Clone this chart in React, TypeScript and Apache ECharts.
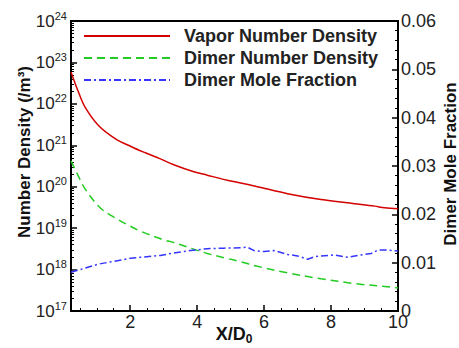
import React, { useEffect, useRef } from "react";
import * as echarts from "echarts";

// ---- data ----
const seriesNames = ["Vapor Number Density", "Dimer Number Density", "Dimer Mole Fraction"];

const vaporX = [0.23, 0.45, 0.65, 1.05, 1.55, 2.05, 2.45, 2.9, 3.3, 3.9, 4.3, 4.9, 5.3, 5.8, 6.7, 7.7, 8.7, 9.3, 9.6, 10];
const vaporY = [5.9e22, 1.95e22, 8.3e21, 3.0e21, 1.45e21, 9.1e20, 6.6e20, 4.7e20, 3.4e20, 2.3e20, 1.9e20, 1.43e20, 1.23e20, 1.0e20, 6.8e19, 4.9e19, 3.9e19, 3.4e19, 3.1e19, 2.95e19];

const dimerX = [0.23, 0.45, 0.65, 1.1, 1.5, 1.95, 2.3, 3.0, 3.3, 3.85, 4.3, 4.9, 5.3, 5.8, 6.7, 7.7, 8.7, 9.9, 10];
const dimerY = [4.2e20, 1.8e20, 8.9e19, 3.1e19, 1.86e19, 1.17e19, 8.5e18, 5.2e18, 4.5e18, 3.2e18, 2.45e18, 1.85e18, 1.55e18, 1.2e18, 8.3e17, 6.0e17, 4.6e17, 3.7e17, 3.6e17];

const fracX = [0.23, 1.05, 2.0, 2.3, 2.9, 3.3, 3.8, 4.3, 4.8, 5.3, 5.5, 5.7, 6.0, 6.3, 6.7, 7.0, 7.3, 7.5, 7.7, 8.1, 8.5, 8.9, 9.2, 9.4, 9.7, 10];
const fracY = [0.008, 0.0097, 0.0109, 0.0111, 0.0115, 0.012, 0.0125, 0.0129, 0.013, 0.0131, 0.0132, 0.0125, 0.0123, 0.0125, 0.0117, 0.0114, 0.0107, 0.0112, 0.0114, 0.0116, 0.0111, 0.0116, 0.0119, 0.0126, 0.0126, 0.0124];

const xMin = 0.23;
const xMax = 10;
const xMajorTicks = [2, 4, 6, 8, 10];
const xMinorTicks = [0.5, 1, 1.5, 2.5, 3, 3.5, 4.5, 5, 5.5, 6.5, 7, 7.5, 8.5, 9, 9.5];
const logMinExp = 17;
const logMaxExp = 24;
const fracMax = 0.06;
const fracInterval = 0.01;

const FONT = "'Liberation Sans', Arial, Helvetica, sans-serif";
const RED = "#d40000";
const GREEN = "#22cc22";
const BLUE = "#3535ff";

function pairs(xs: number[], ys: number[]) {
  return xs.map((x, i) => [x, ys[i]]);
}

export default function App() {
  const ref = useRef<HTMLDivElement>(null);

  useEffect(() => {
    if (!ref.current) return;
    const chart = echarts.init(ref.current, undefined, { renderer: "svg" });

    const logMinor: number[] = [];
    for (let e = logMinExp; e < logMaxExp; e++) {
      for (let k = 2; k <= 9; k++) logMinor.push(e + Math.log10(k));
    }

    const gridRect = { left: 71, top: 21, width: 327, height: 290 };

    const option: any = {
      animation: false,
      backgroundColor: "#fff",
      textStyle: { fontFamily: FONT },
      grid: [
        { ...gridRect, show: true, borderColor: "#000", borderWidth: 2, backgroundColor: "transparent" },
        { ...gridRect, show: false },
      ],
      legend: {
        orient: "vertical",
        left: 78,
        top: 22,
        itemWidth: 86,
        itemHeight: 18,
        itemGap: 4,
        data: seriesNames,
        itemStyle: { opacity: 0 },
        textStyle: { fontSize: 18, fontWeight: "bold", color: "#222", fontFamily: FONT, padding: [0, 0, 0, 9] },
      },
      xAxis: [
        {
          type: "value",
          gridIndex: 0,
          min: xMin,
          max: xMax,
          position: "bottom",
          axisLine: { show: true, lineStyle: { color: "#000", width: 2 } },
          axisTick: { show: true, inside: true, length: 6, customValues: xMajorTicks, lineStyle: { color: "#000", width: 1.5 } },
          axisLabel: { show: true, customValues: xMajorTicks, fontSize: 18, color: "#222", margin: 2, fontFamily: FONT },
          splitLine: { show: false },
        },
        {
          type: "value",
          gridIndex: 1,
          min: xMin,
          max: xMax,
          position: "bottom",
          axisLine: { show: false },
          axisTick: { show: true, inside: true, length: 3, customValues: xMinorTicks, lineStyle: { color: "#000", width: 1 } },
          axisLabel: { show: false },
          splitLine: { show: false },
        },
      ],
      yAxis: [
        {
          type: "log",
          gridIndex: 0,
          logBase: 10,
          min: Math.pow(10, logMinExp),
          max: Math.pow(10, logMaxExp),
          interval: 1,
          position: "left",
          axisLine: { show: true, lineStyle: { color: "#000", width: 2 } },
          axisTick: { show: true, inside: true, length: 6, lineStyle: { color: "#000", width: 1.5 } },
          axisLabel: {
            show: true,
            margin: 4,
            formatter: (v: number) => `{b|10}{s|${Math.round(Math.log10(v))}}`,
            rich: {
              b: { fontSize: 17, color: "#222", fontFamily: FONT, lineHeight: 22 },
              s: { fontSize: 11, color: "#222", fontFamily: FONT, lineHeight: 11, verticalAlign: "top" },
            },
          },
          splitLine: { show: false },
        },
        {
          type: "value",
          gridIndex: 0,
          min: 0,
          max: fracMax,
          interval: fracInterval,
          position: "right",
          axisLine: { show: true, lineStyle: { color: "#000", width: 2 } },
          axisTick: { show: true, inside: true, length: 6, lineStyle: { color: "#000", width: 1.5 } },
          minorTick: { show: true, splitNumber: 5, length: 3, lineStyle: { color: "#000", width: 1 } },
          axisLabel: {
            show: true,
            margin: 3,
            fontSize: 18,
            color: "#222",
            fontFamily: FONT,
            formatter: (v: number) => (v === 0 ? "0" : v.toFixed(2)),
          },
          splitLine: { show: false },
          minorSplitLine: { show: false },
        },
        {
          type: "value",
          gridIndex: 1,
          min: logMinExp,
          max: logMaxExp,
          position: "left",
          axisLine: { show: false },
          axisTick: { show: true, inside: true, length: 3, customValues: logMinor, lineStyle: { color: "#000", width: 1 } },
          axisLabel: { show: false },
          splitLine: { show: false },
        },
      ],
      series: [
        {
          name: seriesNames[0],
          type: "line",
          xAxisIndex: 0,
          yAxisIndex: 0,
          data: pairs(vaporX, vaporY),
          symbol: "none",
          smooth: 0.35,
          lineStyle: { color: RED, width: 1.5, type: "solid" },
          itemStyle: { color: RED },
        },
        {
          name: seriesNames[1],
          type: "line",
          xAxisIndex: 0,
          yAxisIndex: 0,
          data: pairs(dimerX, dimerY),
          symbol: "none",
          smooth: 0.35,
          lineStyle: { color: GREEN, width: 1.5, type: [8, 5] },
          itemStyle: { color: GREEN },
        },
        {
          name: seriesNames[2],
          type: "line",
          xAxisIndex: 0,
          yAxisIndex: 1,
          data: pairs(fracX, fracY),
          symbol: "none",
          lineStyle: { color: BLUE, width: 1.5, type: [7, 3, 2, 3] },
          itemStyle: { color: BLUE },
        },
      ],
      graphic: [
        {
          type: "text",
          x: 24,
          y: 152,
          rotation: Math.PI / 2,
          style: {
            text: "Number Density (/m³)",
            font: `bold 17px ${FONT}`,
            fill: "#111",
            align: "center",
            verticalAlign: "middle",
          },
        },
        {
          type: "text",
          x: 450,
          y: 164,
          rotation: Math.PI / 2,
          style: {
            text: "Dimer Mole Fraction",
            font: `bold 17px ${FONT}`,
            fill: "#111",
            align: "center",
            verticalAlign: "middle",
          },
        },
        {
          type: "text",
          x: 234,
          y: 334,
          style: {
            text: "{a|X/D}{b|0}",
            align: "center",
            verticalAlign: "middle",
            rich: {
              a: { font: `bold 18px ${FONT}`, fill: "#111", lineHeight: 22, verticalAlign: "middle" },
              b: { font: `bold 12px ${FONT}`, fill: "#111", lineHeight: 12, verticalAlign: "bottom" },
            },
          },
        },
      ],
    };

    chart.setOption(option);
    return () => chart.dispose();
  }, []);

  return <div ref={ref} style={{ width: 459, height: 348, position: "absolute", left: 0, top: 0 }} />;
}
